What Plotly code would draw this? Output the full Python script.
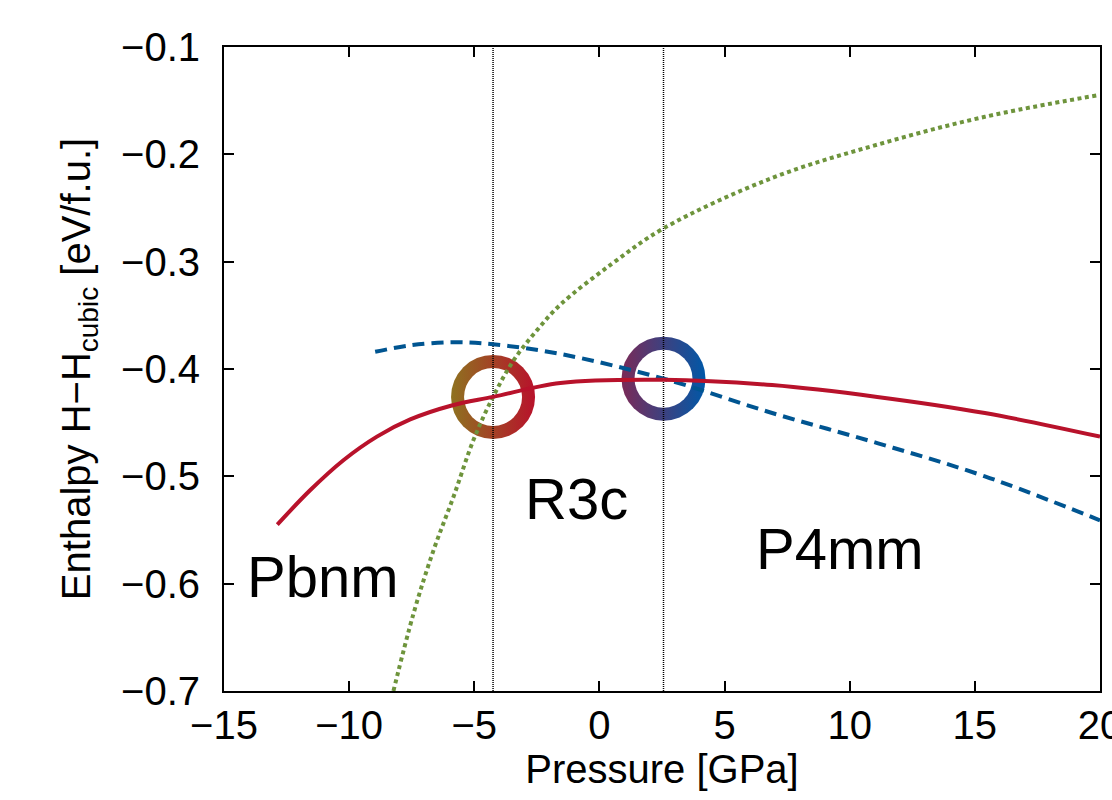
import plotly.graph_objects as go

# ---- data ----
pbnm_p = [-12.87, -11.56, -10.23, -8.89, -7.56, -5.9, -4.25, -1.56, 2.56, 6.9, 11.1, 15.4, 20.0]
pbnm_h = [-0.545, -0.513, -0.485, -0.463, -0.447, -0.434, -0.426, -0.413, -0.410, -0.415, -0.426, -0.441, -0.463]

r3c_p = [-8.96, -7.56, -5.83, -4.25, -1.56, 2.56, 6.9, 11.1, 15.4, 20.0]
r3c_h = [-0.384, -0.378, -0.375, -0.377, -0.386, -0.409, -0.441, -0.469, -0.500, -0.541]

p4mm_p = [-8.23, -7.43, -6.63, -5.83, -5.03, -4.25, -3.43, -2.5, -1.56, 0.5, 2.56, 6.9, 11.1, 15.4, 19.9]
p4mm_h = [-0.70, -0.628, -0.569, -0.519, -0.466, -0.426, -0.392, -0.364, -0.340, -0.302, -0.269, -0.222, -0.191, -0.165, -0.145]

transition_p = [-4.25, 2.56]
transition_h = [-0.426, -0.409]

phase_labels = ["Pbnm", "R3c", "P4mm"]
label_p = [-11.05, -0.9, 9.6]
label_h = [-0.593, -0.521, -0.567]

x_ticks = [-15, -10, -5, 0, 5, 10, 15, 20]
y_ticks = [-0.7, -0.6, -0.5, -0.4, -0.3, -0.2, -0.1]

RED = "#B8122B"
BLUE = "#005591"
GREEN = "#6E943C"
FONT = "Liberation Sans, Arial, sans-serif"

fig = go.Figure()

# gradient rings (drawn first so lines sit on top)
ring_left_colors = [("#8E7220", "#B8122B"), ("#7B2A57", "#0058A8")]
for (p, h), (c1, c2) in zip(zip(transition_p, transition_h), ring_left_colors):
    fig.add_trace(go.Scatter(
        x=[p], y=[h], mode="markers", showlegend=False, hoverinfo="skip",
        marker=dict(size=84, color=c1, line=dict(width=0),
                    gradient=dict(type="horizontal", color=c2))))
    fig.add_trace(go.Scatter(
        x=[p], y=[h], mode="markers", showlegend=False, hoverinfo="skip",
        marker=dict(size=58, color="white", line=dict(width=0))))

# vertical transition lines
for p in transition_p:
    fig.add_trace(go.Scatter(
        x=[p, p], y=[-0.7, -0.1], mode="lines", showlegend=False, hoverinfo="skip",
        line=dict(color="black", width=1.5, dash="1px,1px")))

fig.add_trace(go.Scatter(x=p4mm_p, y=p4mm_h, mode="lines", line_shape="spline",
                         line=dict(color=GREEN, width=4, dash="4px,3.5px"),
                         showlegend=False))
fig.add_trace(go.Scatter(x=r3c_p, y=r3c_h, mode="lines", line_shape="spline",
                         line=dict(color=BLUE, width=4, dash="12px,7px"),
                         showlegend=False))
fig.add_trace(go.Scatter(x=pbnm_p, y=pbnm_h, mode="lines", line_shape="spline",
                         line=dict(color=RED, width=4),
                         showlegend=False))

for t, x, y in zip(phase_labels, label_p, label_h):
    fig.add_annotation(x=x, y=y, text=t, showarrow=False,
                       font=dict(family=FONT, size=58, color="black"),
                       xanchor="center", yanchor="middle")

axis_common = dict(
    showgrid=False, zeroline=False, showline=True, linecolor="black", linewidth=2,
    ticks="inside", ticklen=10, tickwidth=1.5, tickcolor="black", mirror="allticks",
    tickfont=dict(family=FONT, size=40, color="black"), ticklabeloverflow="allow",
    automargin=False,
)

fig.update_layout(
    width=1112, height=800,
    margin=dict(l=224, r=12, t=47, b=109),
    paper_bgcolor="white", plot_bgcolor="white",
    font=dict(family=FONT, color="black"),
    xaxis=dict(range=[-15, 20], tickvals=x_ticks, ticklabelstandoff=-2,
               title=dict(text="Pressure [GPa]", font=dict(family=FONT, size=40), standoff=6),
               **axis_common),
    yaxis=dict(range=[-0.7, -0.1], tickvals=y_ticks, tickformat=".1f", ticklabelstandoff=14,
               title=dict(text="Enthalpy H\u2212H<sub>cubic</sub> [eV/f.u.]",
                          font=dict(family=FONT, size=40), standoff=18),
               **axis_common),
)

fig.write_html("out.html")
